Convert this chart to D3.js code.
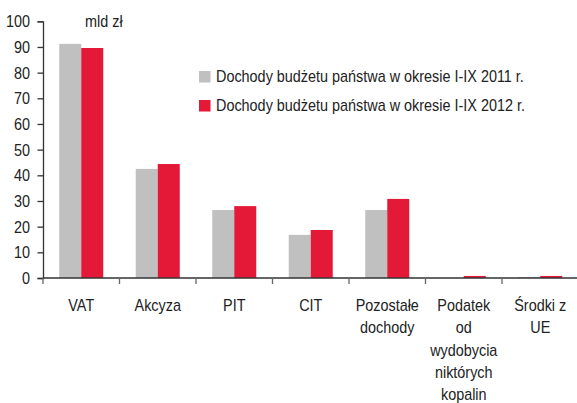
<!DOCTYPE html>
<html>
<head>
<meta charset="utf-8">
<script src="https://cdn.jsdelivr.net/npm/d3@7"></script>
<style>
body { margin: 0; background: #fff; }
text { font-family: Arial, "Liberation Sans", sans-serif; fill: #222; font-size: 16px; }
</style>
</head>
<body>
<svg id="chart" width="577" height="403"></svg>
<script>
// categories (multi-line labels split on |)
var categories = ["VAT", "Akcyza", "PIT", "CIT", "Pozostałe|dochody", "Podatek|od|wydobycia|niktórych|kopalin", "Środki z|UE"];
var values2011 = [91.2, 42.5, 26.5, 16.8, 26.5, 0, 0.4];
var values2012 = [89.6, 44.4, 28.0, 18.7, 30.8, 0.8, 0.8];
var seriesNames = ["Dochody budżetu państwa w okresie I-IX 2011 r.", "Dochody budżetu państwa w okresie I-IX 2012 r."];
var seriesColors = ["#c0c0c0", "#e31937"];
var yTicks = [0, 10, 20, 30, 40, 50, 60, 70, 80, 90, 100];

// the original font is a bit narrow - squeeze Arial horizontally
var SQX = 0.9;

window.onload = function()
{
    main();
};

// put squeezed text at (x, y)
function _sqText(sel, x, y)
{
    return sel.append("text")
        .attr("transform", "translate(" + x + "," + y + ") scale(" + SQX + ",1)");
}

function main()
{
    var svg = d3.select("#chart"),
        x0 = 43, x1 = 578.5, yTop = 21.3, yBottom = 278;

    var x = d3.scaleBand()
        .domain(categories)
        .range([x0, x1]);

    var y = d3.scaleLinear()
        .domain([0, 100])
        .range([yBottom, yTop]);

    var groupW = 44,
        barW = groupW / 2;

    // bars
    var series = [values2011, values2012];
    series.forEach(function(vals, s)
    {
        svg.append("g").selectAll("rect")
            .data(vals)
            .enter().append("rect")
            .attr("x", function(d, i) {
                return x(categories[i]) + x.bandwidth() / 2 - groupW / 2 + s * barW;
            })
            .attr("y", function(d) { return y(d); })
            .attr("width", barW)
            .attr("height", function(d) { return yBottom - y(d); })
            .attr("fill", seriesColors[s]);
    });

    // y axis
    var yAxis = svg.append("g")
        .attr("transform", "translate(" + x0 + ",0)")
        .call(d3.axisLeft(y).tickValues(yTicks).tickSize(5.5).tickPadding(7.5));
    yAxis.select(".domain").attr("stroke", "#333").attr("stroke-width", 1.3);
    yAxis.selectAll(".tick line").attr("stroke", "#333").attr("stroke-width", 1.3);
    yAxis.selectAll("text")
        .attr("dy", null)
        .attr("y", 5.6)
        .attr("x", null)
        .attr("transform", "translate(-13,0) scale(" + SQX + ",1)")
        .style("font-size", "16px")
        .style("font-family", "Arial, 'Liberation Sans', sans-serif")
        .attr("fill", "#222");

    // x axis
    var xAxis = svg.append("g")
        .attr("transform", "translate(0," + yBottom + ")");
    xAxis.append("line")
        .attr("x1", x0).attr("x2", x1)
        .attr("stroke", "#333").attr("stroke-width", 1.3);
    var edges = categories.map(function(c) { return x(c); }).concat([x1]);
    xAxis.selectAll(".xt")
        .data(edges)
        .enter().append("line")
        .attr("x1", function(d) { return d; })
        .attr("x2", function(d) { return d; })
        .attr("y1", 0).attr("y2", 6)
        .attr("stroke", "#666").attr("stroke-width", 1.3);

    // category labels
    var labelG = svg.append("g");
    categories.forEach(function(d)
    {
        var t = _sqText(labelG, x(d) + x.bandwidth() / 2, 311)
            .attr("text-anchor", "middle");
        d.split("|").forEach(function(line, i) {
            t.append("tspan")
                .attr("x", 0)
                .attr("y", i * 22.3)
                .text(line);
        });
    });

    // unit label
    _sqText(svg, 85, 27).text("mld zł");

    // legend
    var legend = svg.append("g");
    seriesNames.forEach(function(name, i)
    {
        var top = 71 + i * 29;
        legend.append("rect")
            .attr("x", 199).attr("y", top)
            .attr("width", 11.5).attr("height", 11.5)
            .attr("fill", seriesColors[i]);
        _sqText(legend, 216, top + 11.3).text(name);
    });
}
</script>
</body>
</html>
